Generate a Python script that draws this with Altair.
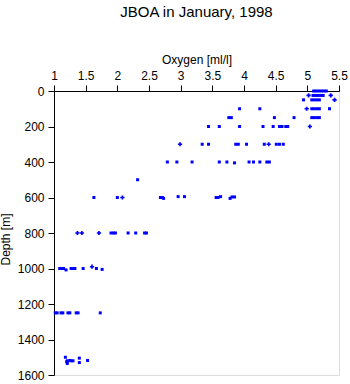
import altair as alt
import pandas as pd

# ---- data (oxygen [ml/l], depth [m], marker) ----
ox_0 = [5.10, 5.14, 5.18, 5.22, 5.26, 5.30]
ox_25 = [5.02, 5.09, 5.13, 5.17, 5.21, 5.25, 5.37]
ox_50 = [4.94, 5.07, 5.11, 5.15, 5.19, 5.43]
ox_100 = [3.93, 4.25, 4.99, 5.07, 5.11, 5.15, 5.19, 5.35]
ox_150 = [3.76, 3.80, 4.48, 4.79, 5.07, 5.11, 5.15, 5.19]
ox_200 = [3.44, 3.61, 3.93, 4.30, 4.46, 4.56, 4.60, 4.66, 4.69, 5.04]
ox_300 = [2.99, 3.34, 3.44, 3.87, 3.91, 4.04, 4.32, 4.39, 4.51, 4.56, 4.62]
ox_400 = [2.79, 2.94, 3.18, 3.61, 3.73, 3.85, 4.08, 4.15, 4.25, 4.36, 4.40]
ox_500 = [2.32]
ox_600 = [1.63, 2.00, 2.08, 2.68, 2.71, 2.73, 2.96, 3.06, 3.56, 3.59, 3.63, 3.78, 3.81, 3.85]
ox_800 = [1.37, 1.44, 1.71, 1.90, 1.94, 1.97, 2.17, 2.29, 2.43, 2.46]
ox_1000 = [1.09, 1.12, 1.15, 1.19, 1.27, 1.30, 1.33, 1.46, 1.60, 1.67, 1.76]
ox_1250 = [1.02, 1.05, 1.11, 1.14, 1.22, 1.25, 1.35, 1.38, 1.73]
ox_1500 = [1.18, 1.40, 1.21, 1.25, 1.27, 1.30, 1.53, 1.20, 1.40, 1.21]

dp_0 = [0, 0, 0, 0, 0, 0]
dp_25 = [25, 25, 25, 25, 25, 25, 25]
dp_50 = [50, 50, 50, 50, 50, 50]
dp_100 = [100, 100, 100, 100, 100, 100, 100, 100]
dp_150 = [150, 150, 150, 150, 150, 150, 150, 150]
dp_200 = [200, 200, 200, 200, 200, 200, 200, 200, 200, 200]
dp_300 = [300, 300, 300, 300, 300, 300, 300, 300, 300, 300, 300]
dp_400 = [400, 400, 400, 400, 400, 405, 400, 400, 400, 400, 400]
dp_500 = [500]
dp_600 = [600, 600, 600, 600, 600, 605, 595, 595, 600, 600, 595, 605, 597, 597]
dp_800 = [800, 800, 800, 800, 800, 800, 800, 800, 800, 800]
dp_1000 = [1000, 1000, 1000, 1008, 1000, 1000, 1000, 1000, 990, 1000, 1005]
dp_1250 = [1250, 1250, 1250, 1250, 1250, 1250, 1250, 1250, 1250]
dp_1500 = [1500, 1505, 1520, 1518, 1520, 1520, 1518, 1525, 1530, 1535]

mk_0 = ["s"] * 6
mk_25 = ["p", "s", "s", "s", "s", "s", "p"]
mk_50 = ["s", "s", "s", "s", "s", "p"]
mk_100 = ["s", "s", "p", "s", "s", "s", "s", "s"]
mk_150 = ["s"] * 8
mk_200 = ["s"] * 9 + ["p"]
mk_300 = ["p", "s", "s", "s", "s", "s", "s", "p", "s", "s", "s"]
mk_400 = ["s"] * 11
mk_500 = ["s"]
mk_600 = ["s", "s", "p"] + ["s"] * 11
mk_800 = ["p", "p", "p"] + ["s"] * 7
mk_1000 = ["s"] * 8 + ["p", "s", "s"]
mk_1250 = ["s"] * 9
mk_1500 = ["s"] * 10

oxygen = ox_0 + ox_25 + ox_50 + ox_100 + ox_150 + ox_200 + ox_300 + ox_400 + ox_500 + ox_600 + ox_800 + ox_1000 + ox_1250 + ox_1500
depth = dp_0 + dp_25 + dp_50 + dp_100 + dp_150 + dp_200 + dp_300 + dp_400 + dp_500 + dp_600 + dp_800 + dp_1000 + dp_1250 + dp_1500
marker = mk_0 + mk_25 + mk_50 + mk_100 + mk_150 + mk_200 + mk_300 + mk_400 + mk_500 + mk_600 + mk_800 + mk_1000 + mk_1250 + mk_1500

x_ticks = [1, 1.5, 2, 2.5, 3, 3.5, 4, 4.5, 5, 5.5]
y_ticks = [0, 200, 400, 600, 800, 1000, 1200, 1400, 1600]

df = pd.DataFrame({"oxygen": oxygen, "depth": depth, "marker": marker})

FONT = "Liberation Sans"

chart = (
    alt.Chart(df)
    .mark_point(filled=True, opacity=1, strokeWidth=0, color="#0000ff")
    .encode(
        x=alt.X(
            "oxygen:Q",
            scale=alt.Scale(domain=[1, 5.5], nice=False, zero=False),
            axis=alt.Axis(
                orient="top", values=x_ticks, format=".1~f", title="Oxygen [ml/l]",
                grid=False, tickSize=6, labelPadding=3, titlePadding=3,
                domainColor="black", tickColor="black", labelColor="black", titleColor="black",
                labelFont=FONT, titleFont=FONT, labelFontSize=12, titleFontSize=12,
                titleFontWeight="normal", labelFlush=False,
            ),
        ),
        y=alt.Y(
            "depth:Q",
            scale=alt.Scale(domain=[0, 1600], reverse=True, nice=False),
            axis=alt.Axis(
                values=y_ticks, format="d", title="Depth [m]",
                grid=False, tickSize=6, labelPadding=4, titlePadding=5, titleY=148,
                domainColor="black", tickColor="black", labelColor="black", titleColor="black",
                labelFont=FONT, titleFont=FONT, labelFontSize=12, titleFontSize=12,
                titleFontWeight="normal", labelFlush=False,
            ),
        ),
        shape=alt.Shape(
            "marker:N",
            scale=alt.Scale(domain=["s", "p"], range=["square", "cross"]),
            legend=None,
        ),
        size=alt.Size(
            "marker:N",
            scale=alt.Scale(domain=["s", "p"], range=[9, 18]),
            legend=None,
        ),
    )
    .properties(
        width=285,
        height=284,
        autosize=alt.AutoSizeParams(type="none"),
        padding={"left": 54, "top": 91, "right": 11, "bottom": 9},
        title=alt.Title(
            "JBOA in January, 1998", font=FONT, fontSize=15, fontWeight="normal",
            color="black", anchor="middle", offset=33,
        ),
    )
    .configure_view(stroke=None)
    .configure(background="white")
)

chart.save("out.html", embed_options={"renderer": "svg", "actions": False})
